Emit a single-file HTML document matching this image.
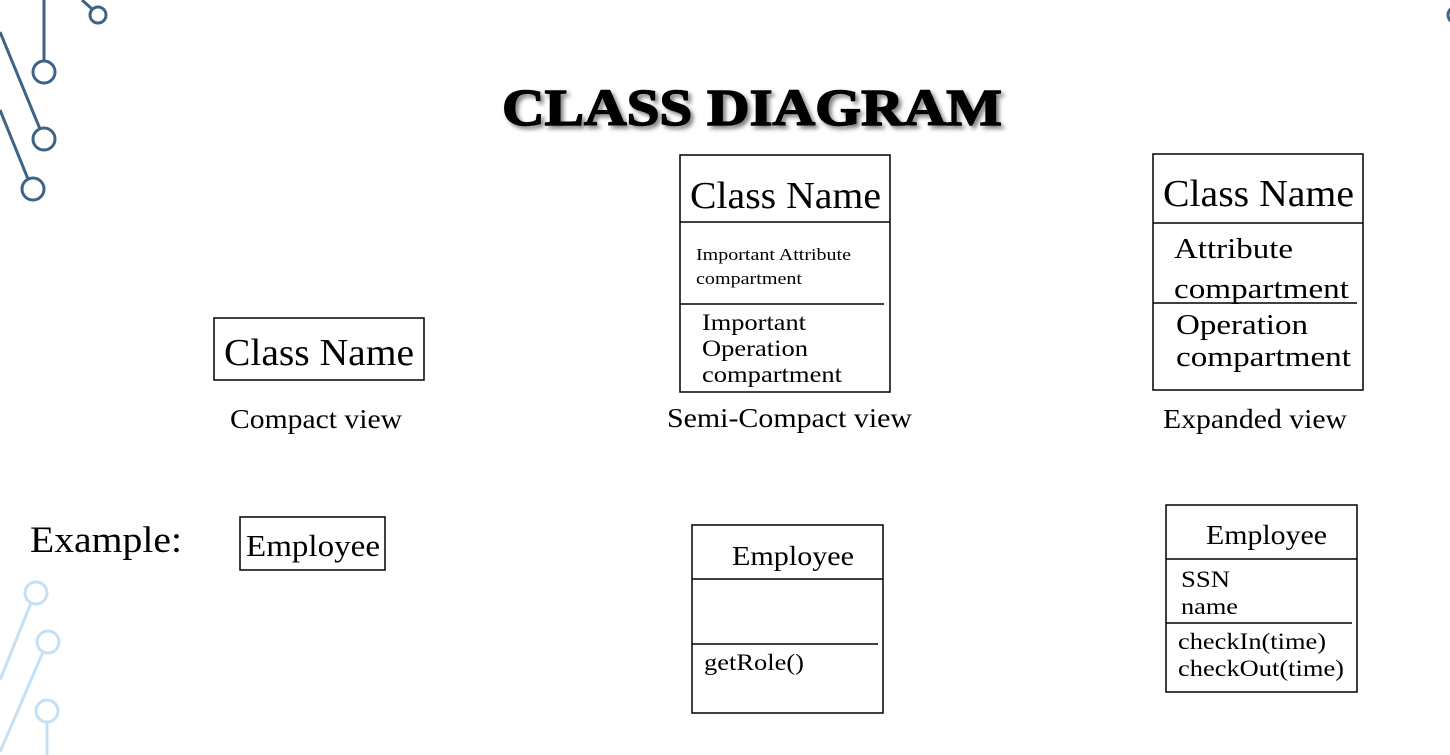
<!DOCTYPE html>
<html><head><meta charset="utf-8"><style>
html,body{margin:0;padding:0;background:#fff;width:1450px;height:755px;overflow:hidden}
svg{display:block}
text{font-family:"Liberation Serif",serif;fill:#000}
</style></head><body>
<svg width="1450" height="755" viewBox="0 0 1450 755" xmlns="http://www.w3.org/2000/svg">
<defs><filter id="sh" x="-5%" y="-20%" width="110%" height="140%"><feDropShadow dx="3" dy="3" stdDeviation="2" flood-color="#000" flood-opacity="0.5"/></filter></defs>
<g fill="none" stroke="#3d6487" stroke-width="3">
<line x1="44" y1="0" x2="44" y2="61"/><circle cx="44" cy="72" r="11"/>
<line x1="0" y1="32" x2="40" y2="129"/><circle cx="44" cy="139" r="11"/>
<line x1="0" y1="110" x2="28" y2="179"/><circle cx="33" cy="189" r="11"/>
<line x1="82" y1="0" x2="92" y2="9"/><circle cx="98" cy="15" r="8"/>
<circle cx="1456" cy="15" r="8"/>
</g>
<g fill="none" stroke="#c5e0f4" stroke-width="3">
<circle cx="36" cy="593" r="11"/><line x1="31" y1="603" x2="0" y2="680"/>
<circle cx="48" cy="642" r="11"/><line x1="43" y1="652" x2="0" y2="752"/>
<circle cx="47" cy="711" r="11"/><line x1="47" y1="722" x2="47" y2="755"/>
</g>
<text x="502" y="125" font-size="52" font-weight="bold" stroke="#000" stroke-width="1.5" textLength="500" lengthAdjust="spacingAndGlyphs" filter="url(#sh)">CLASS DIAGRAM</text>
<g fill="none" stroke="#000" stroke-width="1.5">
<rect x="214" y="318" width="210" height="62"/>
<rect x="680" y="155" width="210" height="237"/>
<line x1="680" y1="222" x2="890" y2="222"/><line x1="680" y1="304" x2="884" y2="304"/>
<rect x="1153" y="154" width="210" height="236"/>
<line x1="1153" y1="223" x2="1363" y2="223"/><line x1="1153" y1="303" x2="1357" y2="303"/>
<rect x="240" y="517" width="145" height="53"/>
<rect x="692" y="525" width="191" height="188"/>
<line x1="692" y1="579" x2="883" y2="579"/><line x1="692" y1="644" x2="878" y2="644"/>
<rect x="1166" y="505" width="191" height="187"/>
<line x1="1166" y1="559" x2="1357" y2="559"/><line x1="1166" y1="623" x2="1352" y2="623"/>
</g>
<g lengthAdjust="spacingAndGlyphs">
<text x="224" y="365" font-size="38" textLength="190" lengthAdjust="spacingAndGlyphs">Class Name</text>
<text x="230" y="428" font-size="27" textLength="172" lengthAdjust="spacingAndGlyphs">Compact view</text>
<text x="690" y="208" font-size="38" textLength="191" lengthAdjust="spacingAndGlyphs">Class Name</text>
<text x="696" y="260" font-size="17" textLength="155" lengthAdjust="spacingAndGlyphs">Important Attribute</text>
<text x="696" y="284" font-size="17" textLength="106" lengthAdjust="spacingAndGlyphs">compartment</text>
<text x="702" y="330" font-size="23" textLength="104" lengthAdjust="spacingAndGlyphs">Important</text>
<text x="702" y="356" font-size="23" textLength="106" lengthAdjust="spacingAndGlyphs">Operation</text>
<text x="702" y="382" font-size="23" textLength="140" lengthAdjust="spacingAndGlyphs">compartment</text>
<text x="667" y="427" font-size="27" textLength="245" lengthAdjust="spacingAndGlyphs">Semi-Compact view</text>
<text x="1163" y="206" font-size="38" textLength="191" lengthAdjust="spacingAndGlyphs">Class Name</text>
<text x="1174" y="258" font-size="29" textLength="119" lengthAdjust="spacingAndGlyphs">Attribute</text>
<text x="1174" y="298" font-size="29" textLength="175" lengthAdjust="spacingAndGlyphs">compartment</text>
<text x="1176" y="334" font-size="29" textLength="132" lengthAdjust="spacingAndGlyphs">Operation</text>
<text x="1176" y="366" font-size="29" textLength="175" lengthAdjust="spacingAndGlyphs">compartment</text>
<text x="1163" y="428" font-size="27" textLength="184" lengthAdjust="spacingAndGlyphs">Expanded view</text>
<text x="30" y="552" font-size="37" textLength="152" lengthAdjust="spacingAndGlyphs">Example:</text>
<text x="246" y="556" font-size="31" textLength="134" lengthAdjust="spacingAndGlyphs">Employee</text>
<text x="732" y="565" font-size="27" textLength="122" lengthAdjust="spacingAndGlyphs">Employee</text>
<text x="704" y="670" font-size="23" textLength="100" lengthAdjust="spacingAndGlyphs">getRole()</text>
<text x="1206" y="544" font-size="27" textLength="121" lengthAdjust="spacingAndGlyphs">Employee</text>
<text x="1181" y="587" font-size="23" textLength="49" lengthAdjust="spacingAndGlyphs">SSN</text>
<text x="1181" y="614" font-size="23" textLength="57" lengthAdjust="spacingAndGlyphs">name</text>
<text x="1178" y="649" font-size="23" textLength="148" lengthAdjust="spacingAndGlyphs">checkIn(time)</text>
<text x="1178" y="676" font-size="23" textLength="166" lengthAdjust="spacingAndGlyphs">checkOut(time)</text>
</g>
</svg>
</body></html>
